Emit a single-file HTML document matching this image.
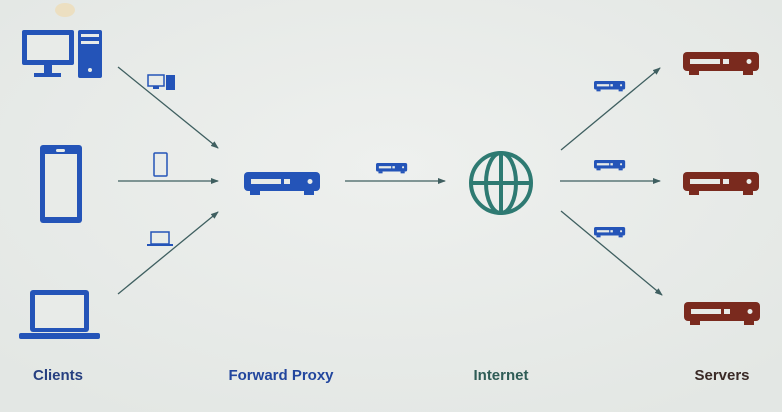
<!DOCTYPE html>
<html><head><meta charset="utf-8"><style>
html,body{margin:0;padding:0;background:#e8ebe8;}
svg{display:block}
text{font-family:"Liberation Sans",sans-serif;font-size:15px;font-weight:bold;text-anchor:middle}
</style></head><body>
<svg width="782" height="412" viewBox="0 0 782 412" xmlns="http://www.w3.org/2000/svg">
<defs>
<radialGradient id="bg" cx="50%" cy="40%" r="70%"><stop offset="0" stop-color="#eef0ee"/><stop offset="1" stop-color="#e3e7e4"/></radialGradient>
<marker id="ah" markerWidth="8" markerHeight="8" refX="7" refY="4" orient="auto" markerUnits="userSpaceOnUse"><path d="M0,1 L8,4 L0,7 Z" fill="#3f5f60"/></marker>
<g id="dev"><rect x="0" y="0" width="76" height="19" rx="4"/><rect x="6" y="19" width="10" height="4"/><rect x="60" y="19" width="10" height="4"/><rect x="7" y="7" width="30" height="5" fill="#e8ebe8"/><rect x="40" y="7" width="6" height="5" fill="#e8ebe8"/><circle cx="66" cy="9.5" r="2.5" fill="#e8ebe8"/></g>
</defs>
<rect width="782" height="412" fill="url(#bg)"/>
<ellipse cx="65" cy="10" rx="10" ry="7" fill="#f0d9a8" opacity="0.6"/>
<!-- desktop -->
<g fill="#2454b8">
<rect x="22" y="30" width="52" height="35" rx="2"/><rect x="27" y="35" width="42" height="25" fill="#e8ebe8"/>
<rect x="44" y="65" width="8" height="8"/><rect x="34" y="73" width="27" height="4"/>
<rect x="78" y="30" width="24" height="48" rx="2"/>
<rect x="81" y="34" width="18" height="3" fill="#e8ebe8"/><rect x="81" y="41" width="18" height="3" fill="#e8ebe8"/><circle cx="90" cy="70" r="2" fill="#e8ebe8"/>
<!-- phone -->
<rect x="40" y="145" width="42" height="78" rx="3"/><rect x="45" y="154" width="32" height="63" fill="#e8ebe8"/><rect x="56" y="149" width="9" height="3" rx="1.5" fill="#e8ebe8"/>
<!-- laptop -->
<rect x="30" y="290" width="59" height="42" rx="3"/><rect x="35" y="295" width="49" height="33" fill="#e8ebe8"/>
<rect x="19" y="333" width="81" height="6" rx="2"/>
<!-- small icons -->
<rect x="148" y="75" width="16" height="11" fill="none" stroke="#2454b8" stroke-width="1.5"/><rect x="153" y="86" width="6" height="3"/><rect x="166" y="75" width="9" height="15"/>
<rect x="154" y="153" width="13" height="23" rx="1" fill="none" stroke="#2454b8" stroke-width="1.5"/>
<rect x="151" y="232" width="18" height="12" fill="none" stroke="#2454b8" stroke-width="1.5"/><rect x="147" y="244" width="26" height="2"/>
</g>
<text x="58" y="380" fill="#263f80">Clients</text>
<text x="281" y="380" fill="#22469e">Forward Proxy</text>
<text x="501" y="380" fill="#2f5c56">Internet</text>
<text x="722" y="380" fill="#3a2a26">Servers</text>
<!-- arrows -->
<g stroke="#3f5f60" stroke-width="1.3" marker-end="url(#ah)">
<line x1="118" y1="67" x2="218" y2="148"/>
<line x1="118" y1="181" x2="218" y2="181"/>
<line x1="118" y1="294" x2="218" y2="212"/>
<line x1="345" y1="181" x2="445" y2="181"/>
<line x1="561" y1="150" x2="660" y2="68"/>
<line x1="560" y1="181" x2="660" y2="181"/>
<line x1="561" y1="211" x2="662" y2="295"/>
</g>
<!-- proxy -->
<use href="#dev" x="244" y="172" fill="#2454b8"/>
<use href="#dev" transform="translate(376,163) scale(0.41,0.45)" fill="#2454b8"/>
<use href="#dev" transform="translate(594,81) scale(0.41,0.45)" fill="#2454b8"/>
<use href="#dev" transform="translate(594,160) scale(0.41,0.45)" fill="#2454b8"/>
<use href="#dev" transform="translate(594,227) scale(0.41,0.45)" fill="#2454b8"/>
<!-- globe -->
<g fill="none" stroke="#2e7a72" stroke-width="4">
<circle cx="501" cy="183" r="30"/>
<ellipse cx="501" cy="183" rx="15" ry="30"/>
<line x1="501" y1="153" x2="501" y2="213"/>
<line x1="471" y1="183" x2="531" y2="183"/>
</g>
<!-- servers -->
<use href="#dev" x="683" y="52" fill="#7a2a1e"/>
<use href="#dev" x="683" y="172" fill="#7a2a1e"/>
<use href="#dev" x="684" y="302" fill="#7a2a1e"/>
</svg>
</body></html>
